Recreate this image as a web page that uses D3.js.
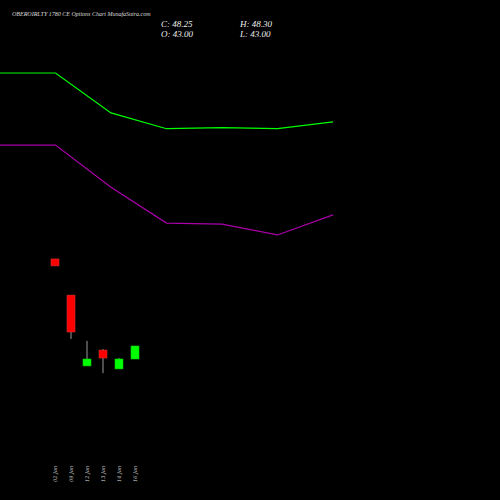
<!DOCTYPE html>
<html><head><meta charset="utf-8">
<script src="https://cdn.jsdelivr.net/npm/d3@7"></script>
<style>body{margin:0;background:#000}</style>
</head><body>
<script>
var dates = ['02 Jan', '09 Jan', '12 Jan', '13 Jan', '14 Jan', '16 Jan'];
var opens = [83.4, 68.8, 40.2, 46.6, 39.0, 43.0];
var closes = [80.6, 53.9, 43.0, 43.4, 43.0, 48.25];
var highs = [83.4, 68.8, 50.3, 47.0, 43.4, 48.3];
var lows = [80.6, 51.1, 40.2, 37.3, 39.0, 43.0];
var upperLine = [158.5, 158.5, 142.4, 136.0, 136.4, 136.0, 138.8];
var lowerLine = [129.4, 129.4, 112.4, 97.9, 97.5, 93.1, 101.2];

var svg = d3.select('body').append('svg').attr('width', 500).attr('height', 500)
  .style('background', '#000');

var y = d3.scaleLinear().domain([43, 48.25]).range([359, 346]);
var x = d3.scaleLinear().domain([0, 5]).range([55, 135]);
var xl = d3.scaleLinear().domain([0, 6]).range([0, 333]);

var line = d3.line().x(function (d, i) { return xl(i); }).y(function (d) { return y(d); });
svg.append('path').attr('d', line(upperLine)).style('fill', 'none').style('stroke', '#00ff00').style('stroke-width', 1.2);
svg.append('path').attr('d', line(lowerLine)).style('fill', 'none').style('stroke', '#aa00aa').style('stroke-width', 1.2);

var candles = svg.selectAll('.candle').data(dates).enter().append('g');
candles.append('line')
  .attr('x1', function (d, i) { return x(i); }).attr('x2', function (d, i) { return x(i); })
  .attr('y1', function (d, i) { return y(highs[i]); }).attr('y2', function (d, i) { return y(lows[i]); })
  .style('stroke', '#999').style('stroke-width', 1);
candles.append('rect')
  .attr('x', function (d, i) { return x(i) - 4; }).attr('width', 8)
  .attr('y', function (d, i) { return y(Math.max(opens[i], closes[i])); })
  .attr('height', function (d, i) { return Math.max(1, Math.abs(y(opens[i]) - y(closes[i]))); })
  .style('fill', function (d, i) { return closes[i] >= opens[i] ? '#00ff00' : '#ff0000'; })
  .style('stroke', function (d, i) { return closes[i] >= opens[i] ? '#00cc00' : '#cc3333'; })
  .style('stroke-width', 0.6);

candles.append('text')
  .attr('transform', function (d, i) { return 'translate(' + (x(i) + 2) + ',482) rotate(-90)'; })
  .style('fill', '#ccc').style('font-family', 'DejaVu Serif').style('font-style', 'italic')
  .style('font-size', '5px').text(function (d) { return d; });

var font = 'Liberation Serif';
svg.append('text').attr('x', 12).attr('y', 16).text('OBEROIRLTY 1780  CE Options  Chart MunafaSutra.com')
  .style('fill', '#ddd').style('font-family', font).style('font-style', 'italic').style('font-size', '6px');
[['C: 48.25', 161, 27], ['O: 43.00', 161, 37], ['H: 48.30', 240, 27], ['L: 43.00', 240, 37]].forEach(function (t) {
  svg.append('text').attr('x', t[1]).attr('y', t[2]).text(t[0])
    .style('fill', '#eee').style('font-family', font).style('font-style', 'italic').style('font-size', '9px');
});
</script>
</body></html>
